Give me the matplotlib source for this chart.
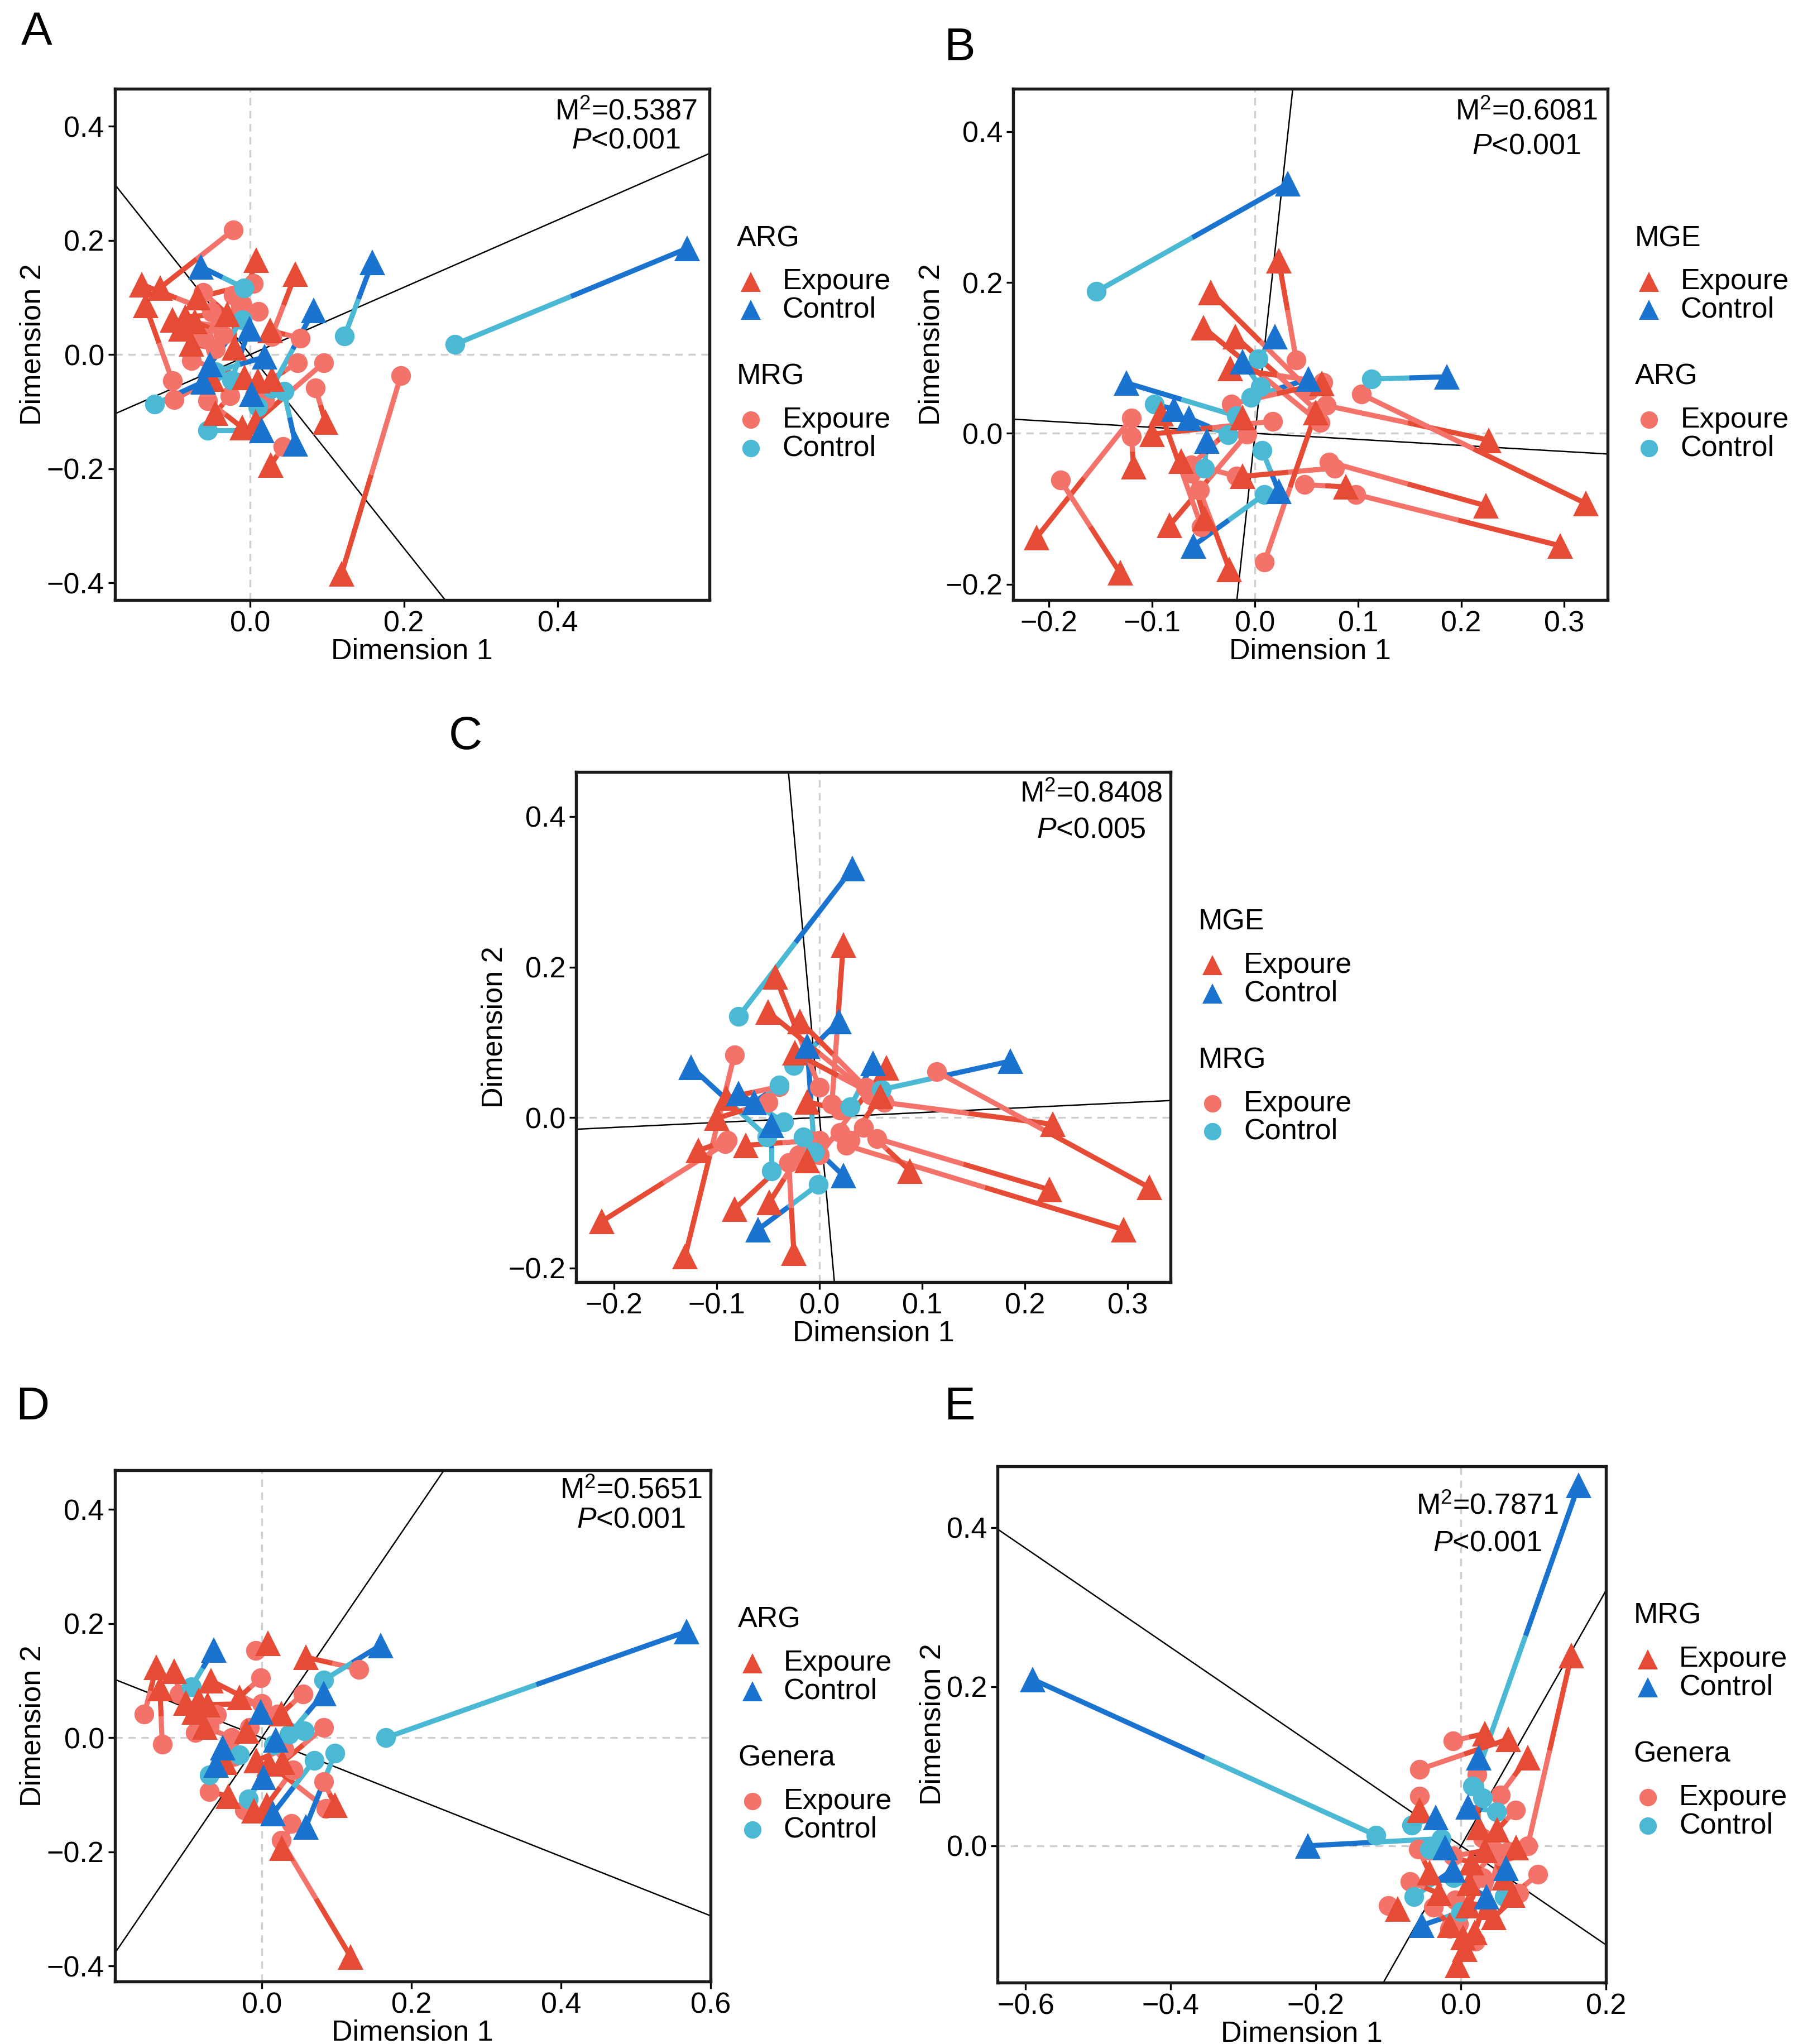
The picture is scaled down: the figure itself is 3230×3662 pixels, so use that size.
import matplotlib
matplotlib.use("Agg")
import matplotlib.pyplot as plt
from matplotlib.lines import Line2D
from matplotlib.ticker import FuncFormatter
import numpy as np

plt.rcParams['font.family'] = ['Liberation Sans', 'DejaVu Sans']
plt.rcParams['mathtext.fontset'] = 'custom'
plt.rcParams['mathtext.rm'] = 'Liberation Sans'
plt.rcParams['mathtext.it'] = 'Liberation Sans:italic'

RED = "#E64B35"
BLUE = "#1A73CF"
SALMON = "#F3736B"
CYAN = "#4CB9D4"

# ---- ARG ordination (triangles in A and D), 24 exposure + 11 control samples
arg_x = [-0.117, -0.136, 0.008, 0.059, 0.098, 0.027, -0.045, -0.010, 0.007, 0.028,
         0.010, -0.049, -0.007, -0.030, -0.020, 0.026, -0.068, -0.141, -0.101, -0.084,
         -0.072, -0.090, -0.076, 0.119,
         0.568, 0.159, -0.064, 0.083, -0.001, 0.019, -0.052, -0.061, 0.002, 0.015, 0.059]
arg_y = [0.117, 0.086, 0.166, 0.141, -0.118, -0.193, -0.102, -0.128, -0.118, -0.043,
         -0.046, -0.043, -0.040, 0.071, 0.012, 0.042, 0.100, 0.123, 0.061, 0.066,
         0.058, 0.045, 0.019, -0.384,
         0.186, 0.162, 0.154, 0.078, 0.045, -0.004, -0.017, -0.048, -0.069, -0.133, -0.156]
arg_group = ["Expoure"] * 24 + ["Control"] * 11

# MRG (circles in A)
mrg_a_x = [-0.022, -0.101, -0.010, 0.028, 0.085, 0.043, -0.026, -0.055, 0.096, 0.062,
           0.019, -0.099, -0.076, -0.061, -0.022, 0.065, 0.004, -0.050, -0.040, 0.011,
           -0.035, -0.060, -0.045, 0.196,
           0.2665, 0.123, -0.008, 0.028, -0.024, -0.045, -0.010, -0.124, 0.010, -0.055, 0.044]
mrg_a_y = [0.218, -0.046, 0.087, 0.032, -0.058, -0.161, -0.072, -0.081, -0.014, -0.014,
           -0.079, -0.079, -0.010, 0.109, 0.104, 0.029, 0.125, 0.075, 0.050, 0.076,
           0.035, 0.030, 0.010, -0.037,
           0.018, 0.033, 0.117, -0.059, -0.045, -0.030, 0.061, -0.087, -0.092, -0.133, -0.064]

# Genera (circles in D)
gen_d_x = [-0.110, -0.133, -0.008, 0.130, 0.083, 0.040, -0.070, -0.023, 0.042, 0.083,
           0.086, -0.037, 0.030, -0.001, -0.016, 0.055, 0.021, -0.157, -0.089, -0.060,
           0.000, -0.070, -0.040, 0.026,
           0.166, 0.083, -0.094, 0.037, 0.057, 0.016, -0.030, -0.070, -0.018, 0.070, 0.098]
gen_d_y = [0.077, -0.011, 0.153, 0.120, -0.077, -0.150, -0.095, -0.127, -0.056, 0.018,
           -0.124, -0.033, -0.020, 0.105, 0.018, 0.077, 0.041, 0.041, 0.009, 0.040,
           0.060, 0.020, 0.000, -0.180,
           0.000, 0.101, 0.089, 0.006, 0.012, -0.012, -0.030, -0.065, -0.107, -0.040, -0.027]

# ---- MGE ordination (triangles in B and C), 11 control + 23 exposure samples
mge_x = [0.032, 0.186, -0.125, -0.079, 0.052, -0.064, -0.047, 0.019, -0.012, 0.023, -0.060,
         -0.212, -0.131, 0.227, 0.321, 0.224, 0.296, 0.088, -0.072, -0.012, 0.023, -0.043,
         -0.050, -0.019, -0.024, 0.059, -0.083, 0.065, -0.025, -0.049, -0.118, -0.100,
         -0.091, -0.012]
mge_y = [0.331, 0.075, 0.067, 0.032, 0.072, 0.020, -0.010, 0.128, 0.095, -0.077, -0.149,
         -0.138, -0.185, -0.009, -0.093, -0.096, -0.149, -0.071, -0.037, -0.057, 0.229, 0.187,
         0.140, 0.128, 0.086, 0.028, -0.122, 0.066, -0.180, -0.113, -0.044, -0.001,
         0.026, 0.021]
mge_group = ["Control"] * 11 + ["Expoure"] * 23

# ARG (circles in B)
arg_b_x = [-0.154, 0.113, -0.018, -0.098, -0.004, -0.026, -0.049, 0.003, 0.005, 0.007, 0.009,
           -0.120, -0.189, 0.069, 0.103, 0.072, 0.098, 0.048, -0.018, 0.077, 0.040, 0.053,
           0.063, 0.060, 0.066, 0.009, -0.008, -0.023, -0.054, -0.062, -0.120, 0.017,
           -0.052, -0.062]
arg_b_y = [0.188, 0.072, 0.023, 0.039, 0.048, -0.002, -0.046, 0.099, 0.062, -0.023, -0.081,
           0.020, -0.062, 0.037, 0.052, -0.038, -0.081, -0.068, -0.057, -0.046, 0.097, 0.057,
           0.014, 0.030, 0.068, -0.171, -0.001, 0.039, -0.075, -0.053, -0.004, 0.016,
           -0.124, -0.042]

# MRG (circles in C)
mrg_c_x = [-0.079, 0.060, -0.051, -0.035, 0.030, -0.039, -0.047, -0.025, -0.005, -0.016, -0.001,
           -0.092, -0.083, 0.063, 0.114, 0.056, 0.026, 0.043, 0.000, 0.020, 0.012, 0.000,
           0.050, 0.045, 0.060, 0.030, -0.010, 0.000, -0.030, -0.020, -0.090, -0.050,
           -0.039, 0.020]
mrg_c_y = [0.134, 0.037, -0.026, -0.006, 0.014, 0.043, -0.071, 0.069, -0.046, -0.026, -0.089,
           -0.035, 0.083, 0.020, 0.061, -0.028, -0.037, -0.013, -0.030, -0.020, 0.018, 0.040,
           0.030, 0.040, 0.025, -0.030, -0.030, -0.050, -0.060, -0.050, -0.030, 0.020,
           0.041, 0.010]

# ---- MRG ordination (triangles in E) and Genera (circles in E)
mrg_e_x = [-0.590, 0.162, -0.211, 0.024, -0.035, 0.010, -0.022, -0.011, 0.062, 0.035, -0.054,
           0.152, 0.033, 0.065, 0.092, -0.057, 0.024, 0.076, 0.033, 0.014, 0.071, -0.087,
           -0.016, 0.005, 0.019, 0.038, -0.043, 0.011, 0.003,
           0.010, 0.045, -0.030, 0.050, -0.005, 0.060]
mrg_e_y = [0.209, 0.453, 0.000, 0.111, 0.036, 0.049, -0.002, -0.030, -0.028, -0.064, -0.100,
           0.239, 0.141, 0.134, 0.111, 0.045, 0.023, -0.002, -0.006, -0.021, -0.062, -0.079,
           -0.100, -0.130, -0.109, -0.077, -0.034, -0.047, -0.115,
           -0.075, -0.090, -0.060, 0.020, -0.150, -0.040]
gen_e_x = [-0.117, 0.016, -0.027, 0.030, -0.068, 0.049, -0.043, -0.065, 0.060, -0.010, 0.000,
           0.092, -0.011, -0.057, 0.054, -0.057, 0.022, 0.065, -0.011, -0.043, 0.106, -0.100,
           -0.038, -0.003, 0.054, -0.008, -0.059, 0.046, -0.016,
           0.030, 0.080, -0.070, 0.075, 0.020, 0.030]
gen_e_y = [0.013, 0.075, 0.009, 0.060, 0.026, 0.043, -0.004, -0.064, -0.064, -0.040, -0.083,
           0.000, 0.132, 0.096, 0.064, 0.062, 0.090, -0.007, -0.013, -0.006, -0.036, -0.075,
           -0.077, -0.098, -0.013, -0.068, -0.004, -0.006, -0.104,
           -0.040, -0.060, -0.045, 0.045, -0.120, 0.010]
mrg_e_group = ["Control"] * 11 + ["Expoure"] * 24

# panel-level stats and rotation axis slopes
panel_labels = ["A", "B", "C", "D", "E"]
m2_values = ["0.5387", "0.6081", "0.8408", "0.5651", "0.7871"]
p_values = ["0.001", "0.001", "0.005", "0.001", "0.001"]
rot_slopes = [0.59, -0.08, 0.066, -0.52, -0.623]
legend_titles = [("ARG", "MRG"), ("MGE", "ARG"), ("MGE", "MRG"), ("ARG", "Genera"), ("MRG", "Genera")]

W, H = 1383.0, 1567.0  # layout reference grid
fig = plt.figure(figsize=(3230 / 300, 3662 / 300), dpi=300)


def box(l, t, r, b):
    return [l / W, 1 - b / H, (r - l) / W, (b - t) / H]


def fmt(v, pos):
    return ("%.1f" % v).replace("-", "\u2212")


panels = [
    dict(rect=box(88, 68, 544, 460), xlim=(-0.176, 0.597), ylim=(-0.430, 0.466),
         xt=[0.0, 0.2, 0.4], yt=[-0.4, -0.2, 0.0, 0.2, 0.4],
         tx=arg_x, ty=arg_y, cx=mrg_a_x, cy=mrg_a_y, grp=arg_group, txt=(0.860, 0.954, 0.898)),
    dict(rect=box(777, 68, 1233, 460), xlim=(-0.235, 0.342), ylim=(-0.221, 0.457),
         xt=[-0.2, -0.1, 0.0, 0.1, 0.2, 0.3], yt=[-0.2, 0.0, 0.2, 0.4],
         tx=mge_x, ty=mge_y, cx=arg_b_x, cy=arg_b_y, grp=mge_group, txt=(0.864, 0.954, 0.888)),
    dict(rect=box(442, 592, 898, 983), xlim=(-0.237, 0.342), ylim=(-0.219, 0.459),
         xt=[-0.2, -0.1, 0.0, 0.1, 0.2, 0.3], yt=[-0.2, 0.0, 0.2, 0.4],
         tx=mge_x, ty=mge_y, cx=mrg_c_x, cy=mrg_c_y, grp=mge_group, txt=(0.866, 0.957, 0.887)),
    dict(rect=box(88, 1127, 545, 1519), xlim=(-0.1965, 0.598), ylim=(-0.427, 0.469),
         xt=[0.0, 0.2, 0.4, 0.6], yt=[-0.4, -0.2, 0.0, 0.2, 0.4],
         tx=arg_x, ty=arg_y, cx=gen_d_x, cy=gen_d_y, grp=arg_group, txt=(0.867, 0.959, 0.903)),
    dict(rect=box(765, 1124, 1232, 1520), xlim=(-0.639, 0.196), ylim=(-0.172, 0.477),
         xt=[-0.6, -0.4, -0.2, 0.0, 0.2], yt=[0.0, 0.2, 0.4],
         tx=mrg_e_x, ty=mrg_e_y, cx=gen_e_x, cy=gen_e_y, grp=mrg_e_group, txt=(0.805, 0.922, 0.851)),
]
letter_pos = [(16, 8), (724, 20), (344, 548), (12, 1062), (724, 1062)]

for i, p in enumerate(panels):
    ax = fig.add_axes(p["rect"])
    ax.axhline(0, color="#CFCFCF", lw=0.8, ls=(0, (4, 3)), zorder=0)
    ax.axvline(0, color="#CFCFCF", lw=0.8, ls=(0, (4, 3)), zorder=0)
    s = rot_slopes[i]
    ax.axline((0, 0), slope=s, color="black", lw=0.6, zorder=1)
    ax.axline((0, 0), slope=-1 / s, color="black", lw=0.6, zorder=1)

    tx, ty = np.array(p["tx"]), np.array(p["ty"])
    cx, cy = np.array(p["cx"]), np.array(p["cy"])
    exp = np.array([g == "Expoure" for g in p["grp"]])
    mx, my = (tx + cx) / 2, (ty + cy) / 2
    for k in range(len(tx)):
        c_col = SALMON if exp[k] else CYAN
        t_col = RED if exp[k] else BLUE
        ax.plot([cx[k], mx[k]], [cy[k], my[k]], color=c_col, lw=2.2, solid_capstyle="butt", zorder=2)
        ax.plot([mx[k], tx[k]], [my[k], ty[k]], color=t_col, lw=2.2, solid_capstyle="butt", zorder=2)
    ax.plot(cx[exp], cy[exp], "o", color=SALMON, ms=8.5, mec="none", zorder=3)
    ax.plot(cx[~exp], cy[~exp], "o", color=CYAN, ms=8.5, mec="none", zorder=3)
    ax.plot(tx[exp], ty[exp], "^", color=RED, ms=11, mec="none", zorder=4)
    ax.plot(tx[~exp], ty[~exp], "^", color=BLUE, ms=11, mec="none", zorder=4)

    ax.set_xlim(*p["xlim"])
    ax.set_ylim(*p["ylim"])
    ax.set_xticks(p["xt"])
    ax.set_yticks(p["yt"])
    ax.xaxis.set_major_formatter(FuncFormatter(fmt))
    ax.yaxis.set_major_formatter(FuncFormatter(fmt))
    ax.tick_params(direction="out", length=3, width=0.8, labelsize=12.5, pad=1.5, colors="black")
    for sp in ax.spines.values():
        sp.set_linewidth(1.3)
        sp.set_color("#1A1A1A")
    ax.set_xlabel("Dimension 1", fontsize=12.5, labelpad=0)
    ax.set_ylabel("Dimension 2", fontsize=12.5, labelpad=0)

    xc, y1, y2 = p["txt"]
    ax.text(xc, y1, "M$^{2}$=" + m2_values[i], transform=ax.transAxes, ha="center", va="center", fontsize=12.5)
    ax.text(xc, y2, "$P$<" + p_values[i], transform=ax.transAxes, ha="center", va="center", fontsize=12.5)

    lx, ly = letter_pos[i]
    fig.text(lx / W, 1 - ly / H, panel_labels[i], fontsize=20, ha="left", va="top")

    # legend, hand placed to the right of the panel
    l, b, w, h = p["rect"]
    right_px = (l + w) * W
    top_px = (1 - (b + h)) * H
    for j, (title, marker, cols) in enumerate([(legend_titles[i][0], "^", (RED, BLUE)),
                                               (legend_titles[i][1], "o", (SALMON, CYAN))]):
        y0 = top_px + 115 + j * 106
        fig.text((right_px + 21) / W, 1 - y0 / H, title, fontsize=12.5, ha="left", va="center")
        for k, (lab, col) in enumerate(zip(["Expoure", "Control"], cols)):
            yy = y0 + 33 + k * 21.5
            fig.add_artist(Line2D([(right_px + 32) / W], [1 - yy / H], marker=marker, color=col,
                                  ms=8.5 if marker == "^" else 7.5, mec="none", ls="none",
                                  transform=fig.transFigure))
            fig.text((right_px + 56) / W, 1 - yy / H, lab, fontsize=12.5, ha="left", va="center")

fig.savefig("out.png", dpi=300)
